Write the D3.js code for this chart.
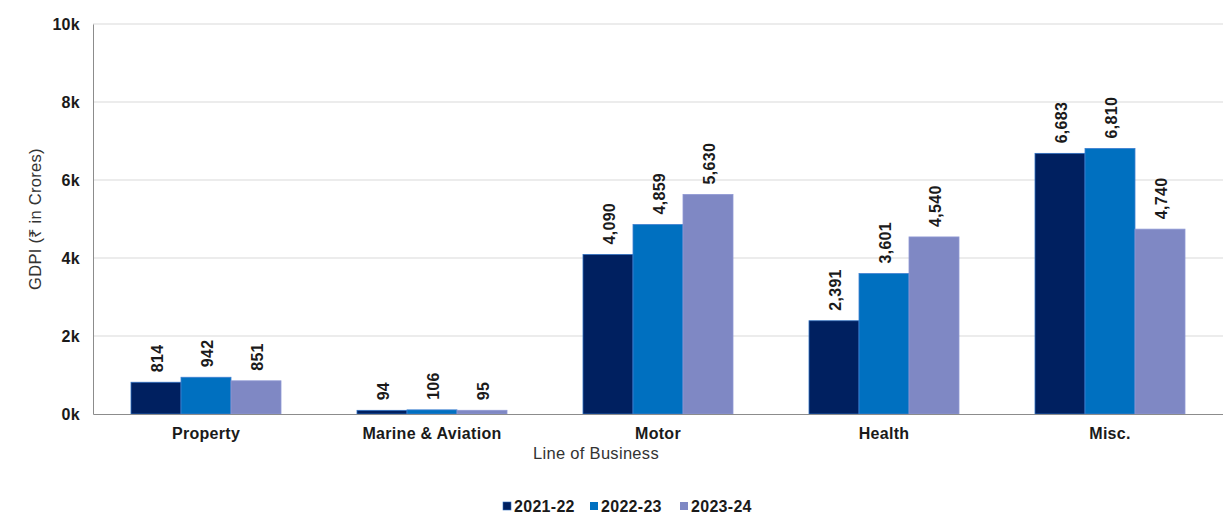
<!DOCTYPE html>
<html>
<head>
<meta charset="utf-8">
<script src="https://cdn.jsdelivr.net/npm/d3@7"></script>
<style>
  html, body { margin: 0; padding: 0; background: #ffffff; }
  svg { display: block; font-family: "Liberation Sans", Arial, sans-serif; }
</style>
</head>
<body>
<svg id="chart" width="1223" height="519"></svg>
<script>
// Gross direct premium income by line of business, three fiscal years
const categories = ["Property", "Marine & Aviation", "Motor", "Health", "Misc."];
const seriesNames = ["2021-22", "2022-23", "2023-24"];
const values2021 = [814, 94, 4090, 2391, 6683];
const values2022 = [942, 106, 4859, 3601, 6810];
const values2023 = [851, 95, 5630, 4540, 4740];
const yTicks = [0, 2000, 4000, 6000, 8000, 10000];
const yTickLabels = ["0k", "2k", "4k", "6k", "8k", "10k"];
const colors = ["#002060", "#0070c0", "#7f88c4"];

const seriesValues = [values2021, values2022, values2023];
const rows = categories.map((c, i) => ({
  category: c,
  values: seriesNames.map((s, j) => ({ series: s, value: seriesValues[j][i], idx: j }))
}));

const svg = d3.select("#chart");
const margin = { left: 93, right: 0, top: 24, bottom: 105 };
const W = 1223, H = 519;
const labelFont = 16;

const x = d3.scaleBand()
  .domain(categories)
  .range([margin.left, W - margin.right])
  .paddingInner(0)
  .paddingOuter(0);

// bars of a group fill about two thirds of each category band
const barsWidth = x.bandwidth() * 150 / 226;
const xInner = d3.scaleBand()
  .domain(seriesNames)
  .range([(x.bandwidth() - barsWidth) / 2, (x.bandwidth() + barsWidth) / 2])
  .padding(0);

const y = d3.scaleLinear().domain([0, 10000]).range([H - margin.bottom, margin.top]);

// Horizontal gridlines
svg.append("g")
  .selectAll("line")
  .data(yTicks.slice(1))
  .join("line")
  .attr("x1", margin.left)
  .attr("x2", W - margin.right)
  .attr("y1", d => y(d))
  .attr("y2", d => y(d))
  .attr("stroke", "#d9d9d9")
  .attr("stroke-width", 1);

// Y axis
const yAxis = d3.axisLeft(y)
  .tickValues(yTicks)
  .tickFormat((d, i) => yTickLabels[i])
  .tickSize(0)
  .tickPadding(13);
const gy = svg.append("g")
  .attr("transform", `translate(${margin.left},0)`)
  .call(yAxis);
gy.select(".domain").attr("stroke", "#8c8c8c").attr("stroke-width", 1);
gy.selectAll("text")
  .attr("font-size", labelFont)
  .attr("font-weight", "bold")
  .attr("letter-spacing", 0.3)
  .attr("fill", "#1a1a1a");

// Bars
const groups = svg.append("g")
  .selectAll("g")
  .data(rows)
  .join("g")
  .attr("transform", d => `translate(${x(d.category)},0)`);

groups.selectAll("rect")
  .data(d => d.values)
  .join("rect")
  .attr("x", d => xInner(d.series))
  .attr("width", xInner.bandwidth())
  .attr("y", d => y(d.value))
  .attr("height", d => y(0) - y(d.value))
  .attr("fill", d => colors[d.idx])
  .attr("stroke", d => d.idx === 0 ? "#2f6fc0" : (d.idx === 1 ? "#3f7fd0" : "#8f98d4"))
  .attr("stroke-width", 0.8);

// Value labels (rotated)
const fmt = d3.format(",");
groups.selectAll("text.val")
  .data(d => d.values)
  .join("text")
  .attr("class", "val")
  .attr("transform", d => `translate(${xInner(d.series) + xInner.bandwidth() / 2 + 7},${y(d.value) - 10}) rotate(-90)`)
  .attr("text-anchor", "start")
  .attr("font-size", labelFont)
  .attr("font-weight", "bold")
  .attr("letter-spacing", 0.3)
  .attr("fill", "#1a1a1a")
  .text(d => fmt(d.value));

// X axis
const xAxis = d3.axisBottom(x).tickSize(0).tickPadding(14);
const gx = svg.append("g")
  .attr("transform", `translate(0,${y(0)})`)
  .call(xAxis);
gx.select(".domain").attr("stroke", "#8c8c8c").attr("stroke-width", 1);
gx.selectAll("text")
  .attr("font-size", labelFont)
  .attr("font-weight", "bold")
  .attr("letter-spacing", 0.3)
  .attr("fill", "#1a1a1a");

// Axis titles
svg.append("text")
  .attr("x", 596)
  .attr("y", 459)
  .attr("text-anchor", "middle")
  .attr("font-size", 16.5)
  .attr("letter-spacing", 0.3)
  .attr("fill", "#333")
  .text("Line of Business");

svg.append("text")
  .attr("transform", `translate(41,219) rotate(-90)`)
  .attr("text-anchor", "middle")
  .attr("font-size", 16.5)
  .attr("letter-spacing", 0.3)
  .attr("fill", "#333")
  .text("GDPI (₹ in Crores)");

// Legend
const legendX = [503, 590, 680];
const legend = svg.append("g")
  .selectAll("g")
  .data(seriesNames)
  .join("g")
  .attr("transform", (d, i) => `translate(${legendX[i]},506)`);
legend.append("rect")
  .attr("x", 0)
  .attr("y", -4)
  .attr("width", 8)
  .attr("height", 8)
  .attr("fill", (d, i) => colors[i])
  .attr("stroke", (d, i) => i === 0 ? "#2f6fc0" : "none")
  .attr("stroke-width", 0.6);
legend.append("text")
  .attr("x", 11)
  .attr("y", 0)
  .attr("dy", "0.35em")
  .attr("font-size", labelFont)
  .attr("font-weight", "bold")
  .attr("letter-spacing", 0.3)
  .attr("fill", "#1a1a1a")
  .text(d => d);
</script>
</body>
</html>
